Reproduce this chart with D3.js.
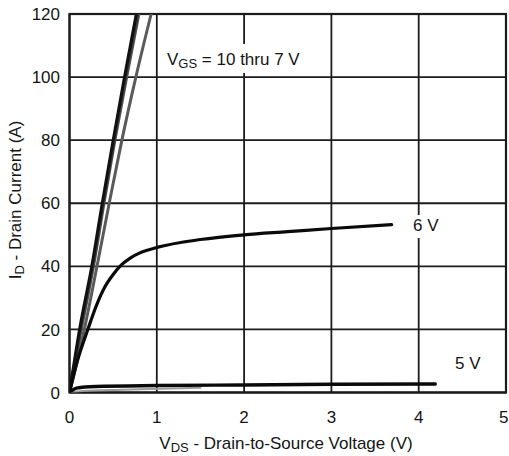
<!DOCTYPE html>
<html>
<head>
<meta charset="utf-8">
<script src="https://cdn.jsdelivr.net/npm/d3@7"></script>
<style>
  html, body { margin: 0; padding: 0; background: #fff; }
  svg text { font-family: "Liberation Sans", Arial, Helvetica, sans-serif; fill: #151515; }
</style>
</head>
<body>
<svg id="chart" width="509" height="456"></svg>
<script>
// Output characteristics: drain current vs drain-to-source voltage, per gate voltage
const xTicks = [0, 1, 2, 3, 4, 5];
const yTicks = [0, 20, 40, 60, 80, 100, 120];

// [VDS (V), ID (A)] samples for each gate-source voltage
const vgs10 = [[0, 0], [0.115, 20], [0.255, 40], [0.375, 60], [0.5, 80], [0.63, 100], [0.765, 120], [0.8, 125]];
const vgs9  = [[0, 0], [0.125, 20], [0.265, 40], [0.385, 60], [0.51, 80], [0.64, 100], [0.78, 120], [0.815, 125]];
const vgs8  = [[0, 0], [0.135, 20], [0.275, 40], [0.395, 60], [0.52, 80], [0.655, 100], [0.795, 120], [0.83, 125]];
const vgs7  = [[0, 0], [0.17, 20], [0.315, 40], [0.455, 60], [0.6, 80], [0.76, 100], [0.935, 120], [0.98, 125]];
const vgs6  = [[0, 0], [0.09, 10], [0.21, 20], [0.30, 27], [0.40, 33.2], [0.50, 37.4], [0.60, 40.6], [0.70, 42.7],
               [0.80, 44.2], [0.90, 45.2], [1.0, 46.0], [1.5, 48.5], [2.0, 50.0], [2.5, 51.0], [3.0, 52.0], [3.69, 53.2]];
const vgs5  = [[0, 0], [0.08, 1.4], [0.3, 1.9], [1.0, 2.2], [2.0, 2.4], [3.0, 2.6], [4.19, 2.7]];
const vgs5Lower = [[0, 0], [0.15, 0.5], [0.6, 0.9], [1.5, 1.5]];

const svg = d3.select("#chart");
const plotLeft = 69.5, plotRight = 506, plotTop = 14, plotBottom = 392.5;

const x = d3.scaleLinear().domain([0, 5]).range([plotLeft, plotRight]);
const y = d3.scaleLinear().domain([0, 120]).range([plotBottom, plotTop]);

// clip for curves
svg.append("defs").append("clipPath").attr("id", "plotClip")
  .append("rect").attr("x", plotLeft).attr("y", plotTop)
  .attr("width", plotRight - plotLeft).attr("height", plotBottom - plotTop);

// grid
const grid = svg.append("g").attr("stroke", "#1c1c1c").attr("stroke-width", 1.8);
grid.selectAll("line.v").data(xTicks).join("line").attr("class", "v")
  .attr("x1", d => x(d)).attr("x2", d => x(d)).attr("y1", plotTop).attr("y2", plotBottom);
grid.selectAll("line.h").data(yTicks).join("line").attr("class", "h")
  .attr("y1", d => y(d)).attr("y2", d => y(d)).attr("x1", plotLeft).attr("x2", plotRight);
svg.append("rect").attr("x", plotLeft).attr("y", plotTop)
  .attr("width", plotRight - plotLeft).attr("height", plotBottom - plotTop)
  .attr("fill", "none").attr("stroke", "#1c1c1c").attr("stroke-width", 2.2);

// tick labels (the last one is kept inside the page edge)
const lastX = xTicks[xTicks.length - 1];
svg.append("g").selectAll("text").data(xTicks).join("text")
  .attr("x", d => d === lastX ? Math.min(x(d) + 4, 508.5) : x(d)).attr("y", 423)
  .attr("text-anchor", d => d === lastX ? "end" : "middle")
  .attr("font-size", 17).text(d => d);
svg.append("g").selectAll("text").data(yTicks).join("text")
  .attr("x", 60).attr("y", d => y(d)).attr("dy", "0.36em").attr("text-anchor", "end")
  .attr("font-size", 17).text(d => d);

// label backgrounds that interrupt the grid
svg.append("rect").attr("x", 160).attr("y", 44).attr("width", 152).attr("height", 29).attr("fill", "#fff");
svg.append("rect").attr("x", 408).attr("y", 215).attr("width", 38).attr("height", 23).attr("fill", "#fff");

// curves
const line = d3.line().x(d => x(d[0])).y(d => y(d[1])).curve(d3.curveMonotoneX);
const curves = svg.append("g").attr("clip-path", "url(#plotClip)").attr("fill", "none")
  .attr("stroke-linecap", "round").attr("stroke-linejoin", "round");

curves.append("path").datum(vgs5Lower).attr("d", line).attr("stroke", "#9a9a9a").attr("stroke-width", 2);
curves.append("path").datum(vgs7).attr("d", line).attr("stroke", "#5a5a5a").attr("stroke-width", 3);
curves.append("path").datum(vgs8).attr("d", line).attr("stroke", "#555").attr("stroke-width", 3);
curves.append("path").datum(vgs9).attr("d", line).attr("stroke", "#333").attr("stroke-width", 3);
curves.append("path").datum(vgs10).attr("d", line).attr("stroke", "#111").attr("stroke-width", 3);
curves.append("path").datum(vgs6).attr("d", line).attr("stroke", "#0a0a0a").attr("stroke-width", 3.2);
curves.append("path").datum(vgs5).attr("d", line).attr("stroke", "#0a0a0a").attr("stroke-width", 3.4);

// curve labels
const vgsLabel = svg.append("text").attr("x", 167).attr("y", 65).attr("font-size", 17);
vgsLabel.append("tspan").text("V");
vgsLabel.append("tspan").attr("font-size", 13).attr("dy", 3).text("GS");
vgsLabel.append("tspan").attr("dy", -3).text(" = 10 thru 7 V");

svg.append("text").attr("x", 413).attr("y", 231).attr("font-size", 17).text("6 V");
svg.append("text").attr("x", 455).attr("y", 369).attr("font-size", 17).text("5 V");

// axis titles
const xTitle = svg.append("text").attr("x", 286).attr("y", 449).attr("text-anchor", "middle").attr("font-size", 17);
xTitle.append("tspan").text("V");
xTitle.append("tspan").attr("font-size", 13).attr("dy", 3).text("DS");
xTitle.append("tspan").attr("dy", -3).text(" - Drain-to-Source Voltage (V)");

const yTitle = svg.append("text").attr("transform", "translate(21,200) rotate(-90)")
  .attr("text-anchor", "middle").attr("font-size", 17);
yTitle.append("tspan").text("I");
yTitle.append("tspan").attr("font-size", 13).attr("dy", 3).text("D");
yTitle.append("tspan").attr("dy", -3).text(" - Drain Current (A)");
</script>
</body>
</html>
